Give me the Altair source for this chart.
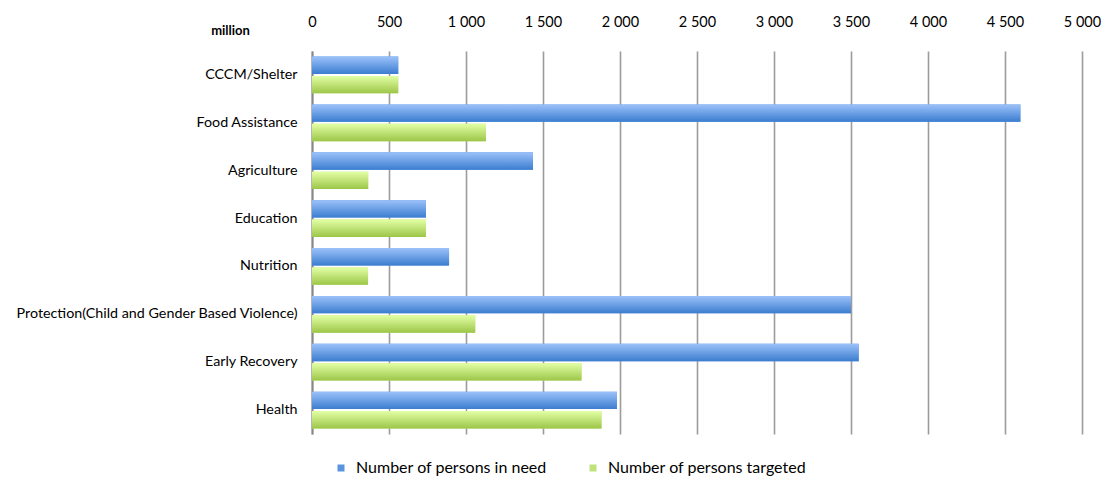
import altair as alt
import pandas as pd

categories = [
    "CCCM/Shelter",
    "Food Assistance",
    "Agriculture",
    "Education",
    "Nutrition",
    "Protection(Child and Gender Based Violence)",
    "Early Recovery",
    "Health",
]
series_names = ["Number of persons in need", "Number of persons targeted"]
in_need = [560, 4600, 1435, 740, 890, 3500, 3550, 1980]
targeted = [560, 1130, 365, 740, 364, 1060, 1750, 1880]
tick_values = [0, 500, 1000, 1500, 2000, 2500, 3000, 3500, 4000, 4500, 5000]

rows = []
for c, a, b in zip(categories, in_need, targeted):
    rows.append({"category": c, "series": series_names[0], "value": a})
    rows.append({"category": c, "series": series_names[1], "value": b})
df = pd.DataFrame(rows)

FONT = "Lato"

grad_blue = {
    "gradient": "linear", "x1": 0, "y1": 0, "x2": 0, "y2": 1,
    "stops": [{"offset": 0, "color": "#9cc2fa"}, {"offset": 1, "color": "#3b7dcf"}],
}
grad_green = {
    "gradient": "linear", "x1": 0, "y1": 0, "x2": 0, "y2": 1,
    "stops": [{"offset": 0, "color": "#e3ffa6"}, {"offset": 1, "color": "#9cc648"}],
}

x_enc = alt.X(
    "value:Q",
    scale=alt.Scale(domain=[0, 5000], nice=False),
    axis=alt.Axis(
        orient="top", values=tick_values, title=None, ticks=False, domain=False,
        labelExpr="replace(format(datum.value, ','), ',', ' ')",
        labelFont=FONT, labelFontSize=14.5, labelColor="#000000", labelPadding=22,
        labelFlush=False, labelOverlap=False,
        gridColor="#9c9c9c", gridWidth=1.6,
    ),
)
y_enc = alt.Y(
    "category:N", sort=categories,
    scale=alt.Scale(paddingInner=0.23, paddingOuter=0.115),
    axis=alt.Axis(
        title="million", titleAngle=0, titleX=-82, titleY=-21, titleAlign="center",
        titleBaseline="middle", titleFont=FONT, titleFontSize=13, titleFontWeight="bold",
        titleColor="#000000",
        ticks=False, labelPadding=15, labelFont=FONT, labelFontSize=14.3, labelColor="#000000",
        domainColor="#888888", domainWidth=2, grid=False, labelLimit=400,
    ),
)
yoff_enc = alt.YOffset("series:N", sort=series_names,
                       scale=alt.Scale(paddingInner=0.1, paddingOuter=0))

base = alt.Chart(df).encode(x=x_enc, y=y_enc, yOffset=yoff_enc)

legend_layer = base.mark_bar().encode(
    color=alt.Color(
        "series:N", sort=series_names,
        scale=alt.Scale(domain=series_names, range=["#5b93df", "#bfe27a"]),
        legend=alt.Legend(
            orient="none", direction="horizontal", legendX=21, legendY=409, title=None,
            symbolType="square", symbolSize=49, symbolStrokeWidth=0,
            labelFont=FONT, labelFontSize=16, labelColor="#000000", labelOffset=7,
            labelLimit=0, columnPadding=38,
        ),
    ),
)

grad_layer = base.mark_bar().encode(
    fill=alt.condition(alt.datum.series == series_names[0], alt.value(grad_blue), alt.value(grad_green)),
)

chart = alt.layer(legend_layer, grad_layer).properties(
    width=770, height=383,
    background="white",
    autosize=alt.AutoSizeParams(type="none"),
    padding={"left": 304, "top": 43, "right": 19, "bottom": 42},
).configure_view(stroke=None)

chart.save("out.html", embed_options={"renderer": "svg", "actions": False})
